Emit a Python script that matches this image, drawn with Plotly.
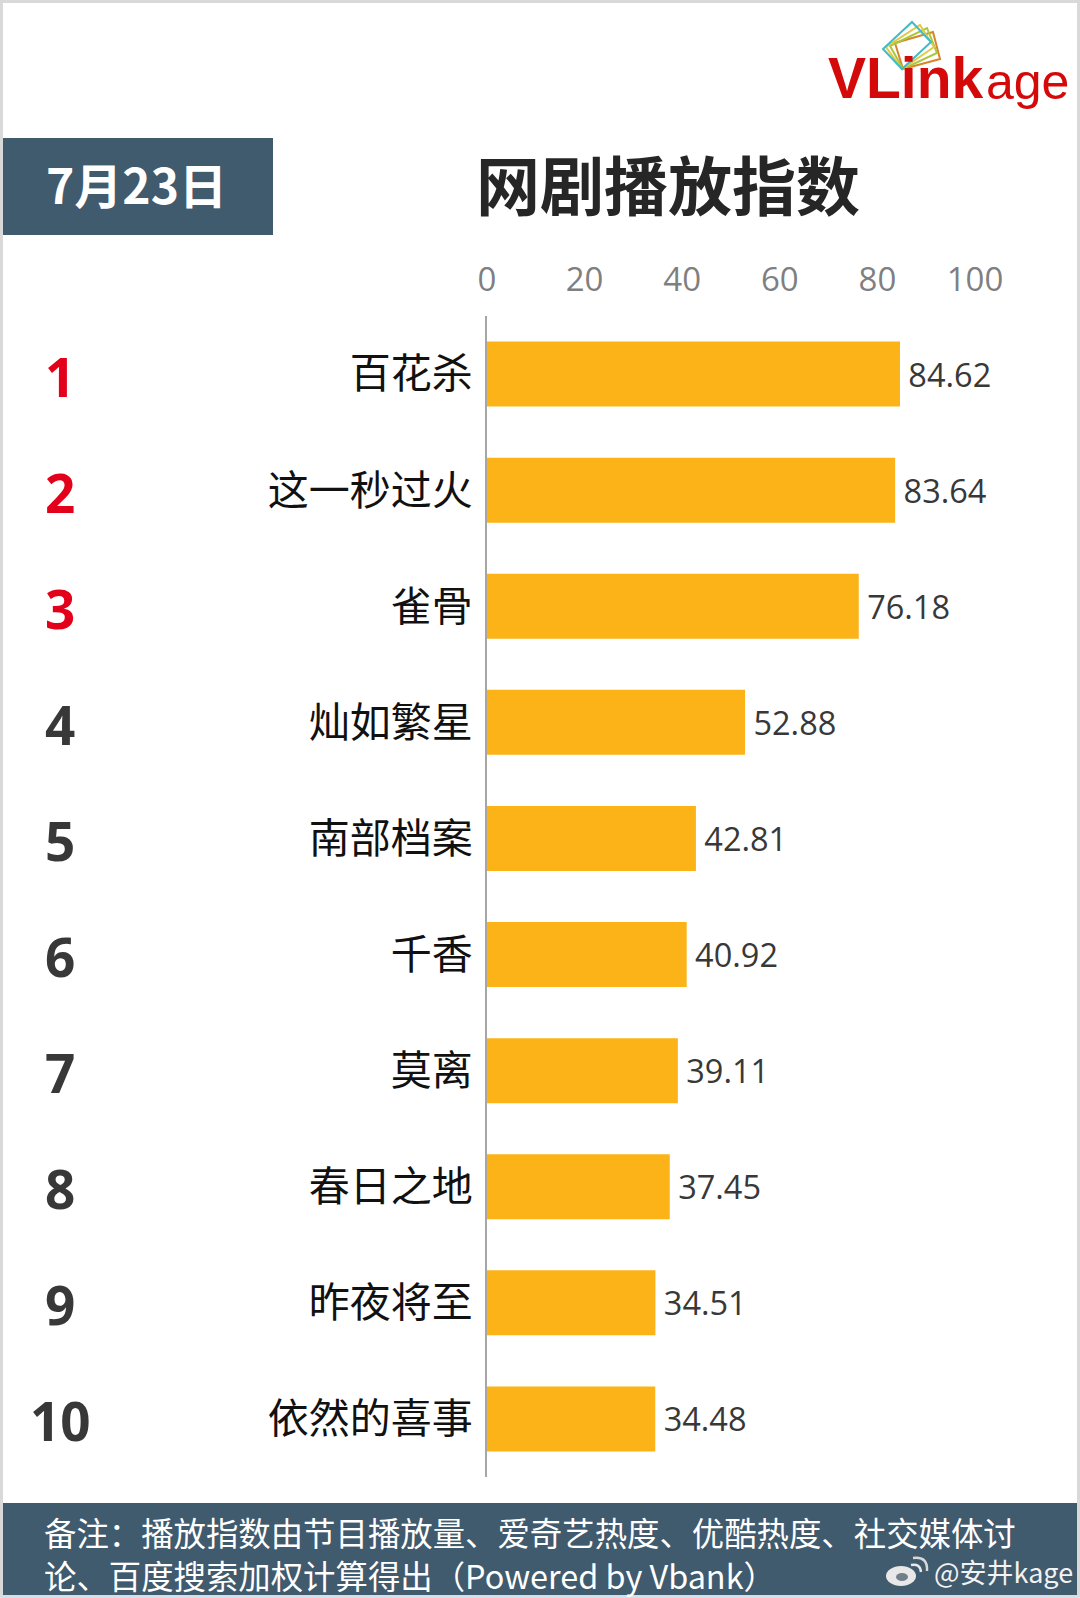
import plotly.graph_objects as go

# chart data
ranks = ["1", "2", "3", "4", "5", "6", "7", "8", "9", "10"]
shows = ["百花杀", "这一秒过火", "雀骨", "灿如繁星", "南部档案", "千香", "莫离", "春日之地", "昨夜将至", "依然的喜事"]
scores = [84.62, 83.64, 76.18, 52.88, 42.81, 40.92, 39.11, 37.45, 34.51, 34.48]
tick_values = [0, 20, 40, 60, 80, 100]

date_label = "7月23日"
chart_title = "网剧播放指数"
note_lines = ["备注：播放指数由节目播放量、爱奇艺热度、优酷热度、社交媒体讨", "论、百度搜索加权计算得出（Powered by Vbank）"]

WIDTH = 1080
HEIGHT = 1598
LEFT = 487
RIGHT = 975
TOP = 316
BOTTOM = 1477

CJK = "Noto Sans CJK SC"
LATIN = "Open Sans"
SLATE = "#405a6e"
RED = "#e2001a"
DARK = "#383838"


# Pixel positions to paper coordinates, for everything outside the plot area
def px(x):
    return (x - LEFT) / (RIGHT - LEFT)


def py(y):
    return (BOTTOM - y) / (BOTTOM - TOP)


def add_text(fig, x, y, text, size, color, font=CJK, anchor="left"):
    fig.add_annotation(x=px(x), y=py(y), xref="paper", yref="paper", text=text, showarrow=False, align="left",
                       xanchor=anchor, yanchor="middle", font=dict(family=font, size=size, color=color))


def add_rect(fig, x0, y0, x1, y1, color):
    fig.add_shape(type="rect", xref="paper", yref="paper", x0=px(x0), y0=py(y0), x1=px(x1), y1=py(y1),
                  fillcolor=color, line_width=0, layer="below")


def add_ellipse(fig, cx, cy, rx, ry, color):
    fig.add_shape(type="circle", xref="paper", yref="paper", x0=px(cx - rx), y0=py(cy - ry), x1=px(cx + rx),
                  y1=py(cy + ry), fillcolor=color, line_width=0)


def add_frame(fig, points, color):
    path = "M " + " L ".join(f"{px(x)} {py(y)}" for x, y in points) + " Z"
    fig.add_shape(type="path", xref="paper", yref="paper", path=path, line=dict(color=color, width=2))


def add_arc(fig, start, control, end, color):
    path = f"M {px(start[0])} {py(start[1])} Q {px(control[0])} {py(control[1])} {px(end[0])} {py(end[1])}"
    fig.add_shape(type="path", xref="paper", yref="paper", path=path, line=dict(color=color, width=2.5))


fig = go.Figure()
fig.add_trace(go.Bar(x=scores, y=shows, orientation="h", marker=dict(color="#fbb317", line_width=0),
                     text=[f"\u2009{s:.2f}" for s in scores], textposition="outside", cliponaxis=False,
                     textfont=dict(family=LATIN, size=32.5, color=DARK)))

fig.update_layout(width=WIDTH, height=HEIGHT, margin=dict(l=LEFT, r=WIDTH - RIGHT, t=TOP, b=HEIGHT - BOTTOM),
                  paper_bgcolor="white", plot_bgcolor="white", showlegend=False, bargap=0.44)
fig.update_xaxes(side="top", range=[0, 100], tickvals=tick_values, showgrid=False, zeroline=False, showline=False,
                 ticks="", ticklabelstandoff=17, tickfont=dict(family=LATIN, size=33, color="#7f7f7f"))
fig.update_yaxes(categoryorder="array", categoryarray=shows, range=[9.5, -0.5], showgrid=False, zeroline=False,
                 showline=True, linecolor="#a6a6a6", linewidth=2, ticks="", ticklabelstandoff=4,
                 tickfont=dict(family=CJK, size=41, color="#111111"))

# Page frame, date tab and note band
add_rect(fig, 0, 0, WIDTH, 3, "#d9d9d9")
add_rect(fig, 0, 0, 3, HEIGHT, "#d9d9d9")
add_rect(fig, WIDTH - 3, 0, WIDTH, HEIGHT, "#d9d9d9")
add_rect(fig, 0, 1595, WIDTH, HEIGHT, "#d5dfe5")
add_rect(fig, 3, 138, 273, 235, SLATE)
add_rect(fig, 3, 1503, WIDTH - 3, 1595, SLATE)

add_text(fig, 136, 183, f"<b>{date_label}</b>", 48, "white", anchor="center")
add_text(fig, 668, 182, f"<b>{chart_title}</b>", 64, "#262626", anchor="center")
add_text(fig, 42, 1531, note_lines[0], 32.4, "white")
add_text(fig, 42, 1574, note_lines[1], 32.4, "white")

# Rank numbers sit on the same categories as the bars
for i, rank in enumerate(ranks):
    fig.add_annotation(x=px(60), y=shows[i], xref="paper", yref="y", xanchor="center", yshift=-2,
                       text=f"<b>{rank}</b>", showarrow=False,
                       font=dict(family=LATIN, size=53, color=RED if i < 3 else DARK))

# Logo
add_frame(fig, [(933, 32), (940, 59), (903, 69), (895, 43)], "#d8842a")
add_frame(fig, [(927, 28), (937, 53), (903, 69), (890, 46)], "#a8c83c")
add_frame(fig, [(920, 25), (934, 47), (902, 69), (886, 47)], "#e3c94a")
add_frame(fig, [(912, 22), (931, 42), (902, 69), (883, 49)], "#3fbcc8")
add_text(fig, 985, 78, "<b>VLink</b>", 57, "#d40a0a", font="Liberation Sans", anchor="right")
add_text(fig, 984, 82, "age", 50, "#d40a0a", font="Liberation Sans")

# Weibo watermark
add_ellipse(fig, 901, 1576, 15, 10, "#e8e8e8")
add_ellipse(fig, 902, 1577, 6, 4, "#6f7f8c")
add_arc(fig, (911, 1565), (920, 1563), (921, 1572), "#e8e8e8")
add_arc(fig, (913, 1558), (928, 1556), (927, 1571), "#d8d8d8")
add_text(fig, 932, 1572, "@安井kage", 27, "#f2f2f2")

# The page body has a default margin that would shift the whole picture
fig.write_html("out.html", config=dict(displayModeBar=False), post_script="document.body.style.margin='0';")
